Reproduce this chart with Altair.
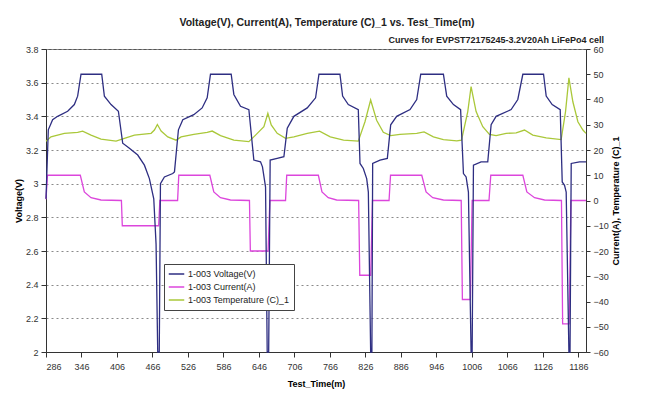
import altair as alt
import pandas as pd

# ---------------- data ----------------
series_names = ["1-003 Voltage(V)", "1-003 Current(A)", "1-003 Temperature (C)_1"]
series_colors = ["#2e2e82", "#dc46dc", "#aac83a"]

x_ticks = [286, 346, 406, 466, 526, 586, 646, 706, 766, 826, 886, 946, 1006, 1066, 1126, 1186]
v_ticks = [2.0, 2.2, 2.4, 2.6, 2.8, 3.0, 3.2, 3.4, 3.6, 3.8]
r_ticks = [-60, -50, -40, -30, -20, -10, 0, 10, 20, 30, 40, 50, 60]

volt_time = [286.0, 289.9, 297.2, 305.7, 322.6, 333.9, 339.5, 345.2, 380.2, 384.7, 396.0, 408.4,
             415.7, 427.0, 441.1, 452.4, 460.8, 468.2, 472.1, 474.9, 477.5, 479.5, 486.2, 500.3,
             503.2, 509.9, 517.3, 535.9, 550.0, 558.5, 564.1, 599.1, 603.6, 614.9, 629.0, 637.4,
             648.7, 652.0, 657.2, 660.0, 662.5, 665.0, 676.9, 688.2, 693.9, 705.1, 727.7, 741.8,
             747.5, 783.0, 787.5, 797.1, 814.0, 816.9, 822.5, 828.2, 831.0, 834.9, 837.0, 838.3,
             850.7, 863.1, 868.8, 878.9, 901.5, 912.8, 919.6, 957.9, 963.5, 974.9, 987.0, 991.8,
             996.3, 1000.2, 1004.7, 1006.5, 1008.7, 1021.6, 1032.9, 1038.6, 1047.0, 1072.4, 1083.7,
             1092.2, 1127.2, 1131.7, 1141.8, 1155.4, 1158.8, 1162.7, 1165.5, 1170.1, 1172.0, 1174.0,
             1188.1, 1199.0]
volt_vals = [2.91, 3.32, 3.38, 3.40, 3.43, 3.47, 3.52, 3.65, 3.65, 3.52, 3.47, 3.43,
             3.24, 3.21, 3.17, 3.11, 3.03, 2.91, 2.64, 2.0, 2.0, 3.00, 3.04, 3.06,
             3.07, 3.32, 3.38, 3.41, 3.45, 3.51, 3.65, 3.65, 3.53, 3.46, 3.44, 3.14,
             3.13, 3.10, 2.98, 2.0, 2.0, 3.14, 3.15, 3.16, 3.33, 3.40, 3.45, 3.51,
             3.65, 3.65, 3.52, 3.47, 3.44, 3.12, 3.09, 3.03, 2.95, 2.0, 2.0, 3.12,
             3.14, 3.15, 3.35, 3.40, 3.44, 3.50, 3.65, 3.65, 3.52, 3.47, 3.44, 3.06,
             3.04, 2.95, 2.0, 2.0, 3.11, 3.13, 3.13, 3.35, 3.40, 3.44, 3.50,
             3.65, 3.65, 3.52, 3.47, 3.44, 3.01, 2.99, 2.95, 2.0, 2.0, 3.12,
             3.13, 3.13]

curr_time = [286.0, 288.5, 344.0, 350.8, 362.1, 379.0, 413.5, 415.0, 476.5, 478.5, 508.5, 510.5,
             563.0, 569.7, 581.0, 597.9, 630.0, 631.5, 661.5, 664.5, 691.0, 693.0, 746.5, 752.6,
             763.2, 777.4, 814.6, 816.5, 835.0, 838.0, 866.0, 868.5, 921.3, 928.6, 939.9, 957.9,
             988.0, 990.0, 1003.5, 1006.5, 1035.0, 1038.0, 1092.2, 1099.0, 1112.0, 1128.9, 1157.5,
             1159.5, 1170.5, 1173.5, 1199.0]
curr_vals = [0.5, 10, 10, 3.4, 1.1, 0.2, 0, -10, -10, 0, 0, 10,
             10, 3.4, 1.1, 0.2, 0, -20, -20, 0, 0, 10, 10, 3.4,
             1.1, 0.2, 0, -29.6, -29.6, 0, 0, 10, 10, 3.4, 1.1, 0.2,
             0, -39.2, -39.2, 0, 0, 10, 10, 3.4, 1.1, 0.2, 0,
             -48.9, -48.9, 0, 0]

temp_time = [286.0, 294.4, 317.0, 339.5, 348.0, 362.1, 379.0, 404.4, 418.5, 435.5, 463.7, 469.3,
             474.3, 480.6, 491.9, 506.0, 514.4, 535.9, 558.5, 567.0, 581.1, 603.6, 629.0, 640.3,
             654.4, 661.1, 666.8, 676.9, 691.0, 705.1, 727.7, 748.5, 766.6, 789.1, 814.0, 825.3,
             834.9, 845.0, 856.3, 868.8, 884.5, 912.8, 925.2, 941.0, 957.9, 980.5, 988.5, 999.1,
             1004.7, 1013.2, 1024.5, 1035.8, 1047.0, 1064.0, 1080.9, 1095.0, 1109.1, 1131.7, 1157.0,
             1164.4, 1170.1, 1176.8, 1185.3, 1193.8, 1199.0]
temp_vals = [23.5, 25.2, 26.6, 27.0, 27.5, 25.9, 24.3, 23.5, 24.6, 25.9, 26.6, 27.9,
             30.1, 27.5, 25.2, 23.9, 25.2, 26.2, 27.0, 27.5, 25.7, 23.9, 23.3, 25.9,
             29.2, 34.5, 29.9, 26.6, 24.6, 25.2, 26.6, 27.5, 25.2, 23.9, 23.5, 31.2,
             39.8, 31.8, 27.0, 25.7, 26.2, 26.6, 27.2, 25.2, 24.1, 23.6, 23.9, 35.2,
             45.1, 35.2, 29.2, 26.2, 25.7, 26.6, 26.8, 27.9, 25.9, 24.8, 24.1,
             35.2, 48.6, 39.1, 31.2, 27.9, 26.6]

title_text = "Voltage(V), Current(A), Temperature (C)_1 vs. Test_Time(m)"
subtitle_text = "Curves for EVPST72175245-3.2V20Ah LiFePo4 cell"

# ---------------- tables ----------------
vdf = pd.DataFrame({"time": volt_time, "value": volt_vals, "series": series_names[0]})
cdf = pd.DataFrame({"time": curr_time, "value": curr_vals, "series": series_names[1]})
tdf = pd.DataFrame({"time": temp_time, "value": temp_vals, "series": series_names[2]})
rdf = pd.concat([cdf, tdf], ignore_index=True)
sdf = pd.DataFrame({"t": [subtitle_text]})

FONT = "Liberation Sans"

color = alt.Color(
    "series:N",
    scale=alt.Scale(domain=series_names, range=series_colors),
    legend=alt.Legend(
        title=None, orient="none", legendX=118, legendY=215, direction="vertical",
        fillColor="white", strokeColor="#444", padding=4, symbolType="stroke",
        symbolSize=240, symbolStrokeWidth=1.5, labelFontSize=9, labelFont=FONT,
        labelColor="#222", rowPadding=1, labelOffset=3, clipHeight=12,
    ),
)

x_enc = alt.X(
    "time:Q",
    scale=alt.Scale(domain=[286, 1199], nice=False, zero=False),
    axis=alt.Axis(
        values=x_ticks, format="d", title="Test_Time(m)", grid=False, tickSize=5,
        labelPadding=5, labelFontSize=9, labelColor="#333", titleFontSize=9,
        titleFontWeight="bold", titlePadding=8, domainColor="#333", tickColor="#333",
        labelFont=FONT, titleFont=FONT,
    ),
)

right = alt.Chart(rdf).mark_line(strokeWidth=1.3).encode(
    x=x_enc,
    y=alt.Y(
        "value:Q",
        scale=alt.Scale(domain=[-60, 60], nice=False, zero=False),
        axis=alt.Axis(
            orient="right", values=r_ticks, title="Current(A), Temperature (C)_1", grid=False,
            tickSize=4, labelPadding=3, labelFontSize=9, labelColor="#333", titleFontSize=9,
            titleFontWeight="bold", titleAngle=270, titlePadding=12, domainColor="#333",
            tickColor="#333", labelFont=FONT, titleFont=FONT,
        ),
    ),
    color=color,
)

left = alt.Chart(vdf).mark_line(strokeWidth=1.3).encode(
    x=x_enc,
    y=alt.Y(
        "value:Q",
        scale=alt.Scale(domain=[2.0, 3.8], nice=False, zero=False),
        axis=alt.Axis(
            values=v_ticks, format="~g", title="Voltage(V)", grid=True, gridColor="#8a8a8a",
            gridDash=[2, 3], gridWidth=1, tickSize=5, labelPadding=3, labelFontSize=9,
            labelColor="#333", titleFontSize=9, titleFontWeight="bold", titlePadding=2,
            domainColor="#333", tickColor="#333", labelFont=FONT, titleFont=FONT,
        ),
    ),
    color=color,
)

sub = alt.Chart(sdf).mark_text(
    align="right", baseline="middle", fontSize=9, fontWeight="bold", font=FONT, color="#222"
).encode(x=alt.value(558), y=alt.value(-9), text="t:N")

chart = (
    alt.layer(right, left, sub)
    .resolve_scale(y="independent")
    .properties(
        width=540,
        height=303,
        autosize=alt.AutoSizeParams(type="none"),
        padding={"left": 38, "top": 41, "right": 50, "bottom": 38},
        title=alt.TitleParams(
            title_text, fontSize=10.5, fontWeight="bold", font=FONT, color="#222",
            anchor="middle", frame="group", dx=11, offset=8,
        ),
    )
    .configure_view(stroke="#555", strokeWidth=1)
)

chart.save("out.html", embed_options={"renderer": "svg", "actions": False})
